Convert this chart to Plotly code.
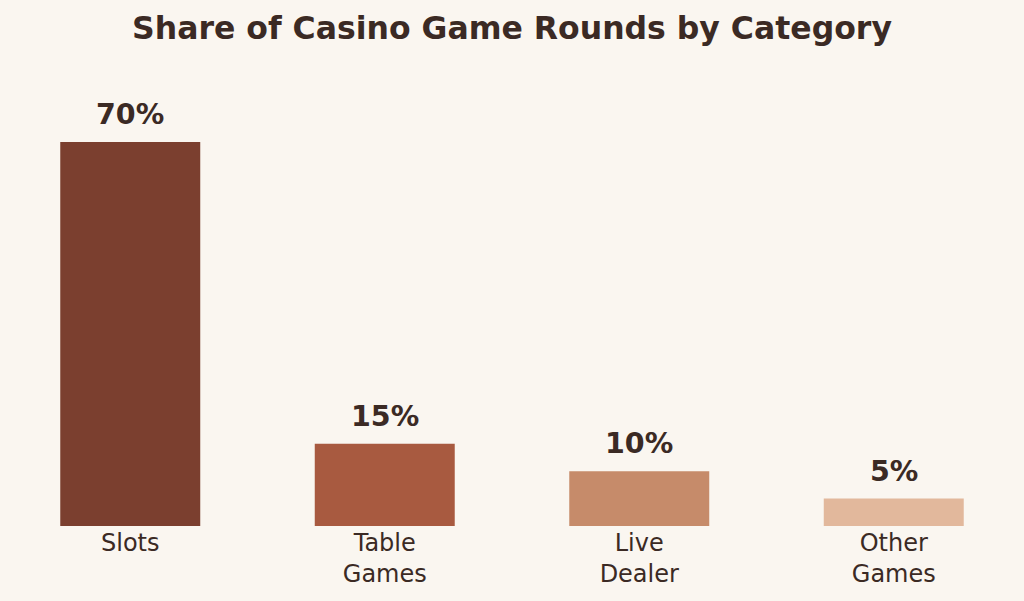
import plotly.graph_objects as go

categories = ["Slots", "Table<br>Games", "Live<br>Dealer", "Other<br>Games"]
shares = [70, 15, 10, 5]
labels = ["70%", "15%", "10%", "5%"]
colors = ["#7B3F2F", "#A85A40", "#C68B6A", "#E2B89C"]

BG = "#FAF6F0"
TXT = "#3B2A24"
FONT = "DejaVu Sans"

fig = go.Figure()
fig.add_trace(go.Bar(
    x=categories, y=shares, width=0.55,
    marker=dict(color=colors, line=dict(width=0)),
    hoverinfo="skip",
))
for c, v, t in zip(categories, shares, labels):
    fig.add_annotation(x=c, y=v, text=f"<b>{t}</b>", showarrow=False,
                       yanchor="bottom", yshift=9,
                       font=dict(family=FONT, size=28.5, color=TXT))

fig.update_layout(
    width=1024, height=601,
    paper_bgcolor=BG, plot_bgcolor=BG,
    margin=dict(l=3, r=3, t=87, b=75),
    title=dict(text="<b>Share of Casino Game Rounds by Category</b>",
               x=0.5, xanchor="center", y=0.953, yanchor="middle",
               font=dict(family=FONT, size=31.5, color=TXT)),
    showlegend=False,
    bargap=0.45,
)
fig.update_xaxes(showgrid=False, zeroline=False, showline=False, ticks="",
                 tickfont=dict(family=FONT, size=24, color=TXT),
                 range=[-0.5, 3.5])
fig.update_yaxes(visible=False, range=[0, 80], showgrid=False, zeroline=False)

fig.write_html("out.html")
